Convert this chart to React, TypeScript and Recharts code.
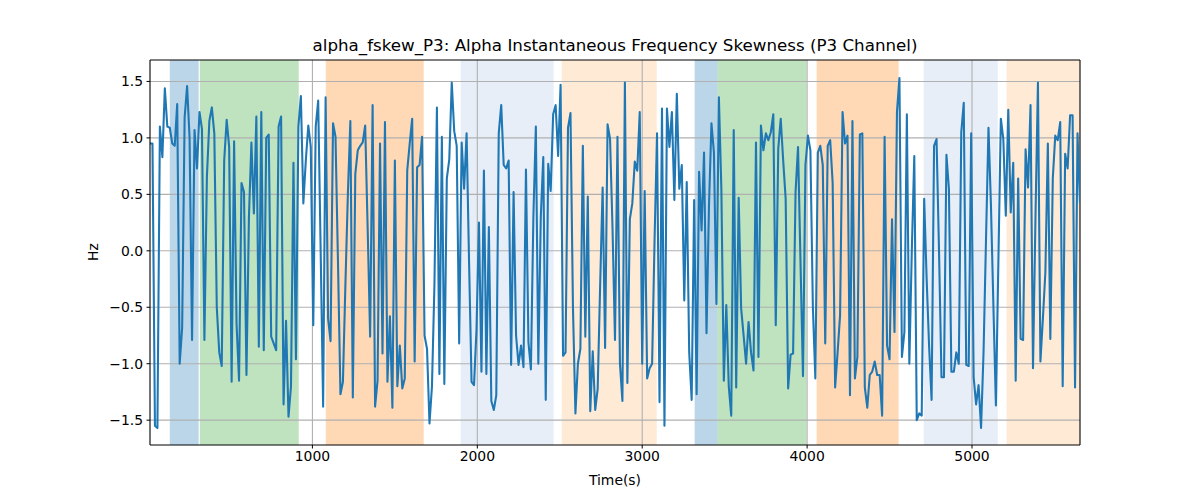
import React from "react"
import { LineChart, Line, XAxis, YAxis, ReferenceArea, ReferenceLine } from "recharts"

// alpha skewness, one sample every 15 s (first at t = 15)
const STEP = 15
const skewValues = [
  0.95, 0.95, -1.55, -1.57, 1.1, 0.83, 1.44, 1.1, 1.09, 0.95,
  0.93, 1.3, -1.0, -0.68, 1.18, 1.46, 1.0, -0.79, 1.07, 0.73,
  1.23, 1.08, -0.79, 0.65, 1.15, 1.27, 1.04, -0.5, -0.9, -1.02,
  0.8, 1.16, 0.92, -1.16, 0.97, -0.65, -1.15, 0.6, 0.52, -1.1,
  0.3, 0.96, 0.33, 1.19, -0.85, 1.23, -0.88, 1.0, 1.03, -0.76,
  -0.82, -0.88, 1.1, 1.19, -1.36, -0.62, -1.47, -1.2, 0.78, -0.96,
  1.1, 1.37, 0.42, 0.8, 1.11, 0.92, -0.66, 1.1, 1.33, 0.0,
  -1.38, 1.36, -0.6, -0.8, 1.13, 1.01, -0.1, -1.27, -1.16, -0.3,
  0.5, 1.15, -1.3, 0.68, 0.89, 0.93, 0.96, 1.11, 0.2, -0.76,
  1.29, -1.38, -1.15, 0.95, -0.91, 1.14, -1.16, -0.58, -1.39, 0.8,
  -1.2, -0.84, -1.22, -1.13, 0.71, 0.95, 1.17, -0.98, 0.74, 0.76,
  1.01, -0.75, -0.87, -1.53, -1.2, -0.3, 1.27, -1.09, 1.01, -1.18,
  0.64, 0.81, 1.49, 1.06, 0.93, -0.82, 0.96, 0.55, 1.04, -0.1,
  -1.16, -1.19, -0.7, 0.25, -1.07, 0.71, -1.09, 0.21, -1.33, -1.41,
  -1.28, 1.04, 1.29, 0.76, 0.73, 0.8, -1.01, 0.52, -0.75, -1.01,
  -0.84, -1.03, 0.72, -0.81, -1.05, 0.3, 1.1, -1.0, 0.3, 0.83,
  -1.32, 0.77, 0.53, 1.21, 1.29, 0.84, 1.47, -0.93, -0.9, 1.09,
  1.22, -0.5, -1.44, -1.0, -0.87, 0.93, -0.76, 0.48, -1.42, -0.89,
  -1.41, -1.22, -0.3, 0.56, -0.86, 1.12, 0.99, 0.2, -0.79, 1.01,
  -1.0, -1.33, 1.49, -1.17, 0.28, 0.42, 0.79, 0.71, 1.23, -1.0,
  0.53, -1.13, -1.04, -1.0, 0.1, 1.04, -1.34, 1.26, -1.55, 1.26,
  0.92, 1.23, 0.45, 1.39, 0.55, 0.76, -0.44, 0.61, -0.9, -1.32,
  0.45, -1.27, 0.7, 0.18, 0.87, -0.73, 0.4, 1.13, 0.87, -0.47,
  1.36, 0.55, -1.15, -0.48, -1.2, -1.46, 1.07, -1.21, 0.47, -0.51,
  -0.75, -1.0, -0.63, -0.9, -1.06, 0.96, -0.94, 1.11, 0.89, 1.04,
  0.98, 1.05, 1.21, -0.66, 0.9, 1.17, 0.8, 0.46, -1.22, -0.92,
  -0.91, 0.52, 0.92, -0.1, -1.11, 0.76, 1.02, 0.89, -0.5, -1.13,
  0.87, 0.93, 0.76, -0.82, 0.93, 0.98, 0.6, -1.21, -0.9, -0.57,
  1.23, 0.95, 1.02, -1.28, 1.15, -1.13, -0.94, 1.03, 1.04, -1.21,
  -1.39, -1.1, -1.07, -0.98, -1.1, -1.1, -1.46, 1.01, -0.84, -0.96,
  0.28, -0.72, 1.23, 1.53, -0.94, -0.72, 1.21, -1.0, 0.0, 0.84,
  -1.5, -1.44, -1.46, 0.46, -0.25, -0.85, -1.32, 0.93, 0.99, 0.0,
  -1.12, -1.12, 0.85, 0.55, -1.07, -1.07, -0.9, -1.0, 1.05, 1.31,
  -1.01, -1.02, 1.04, -1.12, -1.36, -1.19, -1.57, -0.9, 0.1, 1.09,
  0.4, -0.5, -1.37, -0.1, 1.17, 0.99, 0.31, 1.25, 0.34, 0.78,
  -1.15, 0.64, -0.78, -0.79, 0.9, 0.56, 1.29, -1.04, 0.3, 1.49,
  -0.98, -0.6, -0.19, 0.95, -0.78, 0.64, 1.02, 0.98, 1.14, -1.2,
  0.86, 0.73, 1.2, 1.2, -1.21, 1.04, 0.42,
]

// shaded stages (seconds)
const spanStarts = [135, 317, 1081, 1899, 2512, 3318, 3457, 4058, 4707, 5210]
const spanEnds = [310, 917, 1675, 2463, 3088, 3457, 3997, 4555, 5156, 5655]
const spanColors = [
  "#1f77b4", "#2ca02c", "#ff7f0e", "#aec7e8", "#ffbb78",
  "#1f77b4", "#2ca02c", "#ff7f0e", "#aec7e8", "#ffbb78",
]

const xTicks = [1000, 2000, 3000, 4000, 5000]
const yTicks = [-1.5, -1.0, -0.5, 0.0, 0.5, 1.0, 1.5]
const X_MIN = 15
const X_MAX = 5655
const Y_MIN = -1.72
const Y_MAX = 1.69

const FONT = "DejaVu Sans, sans-serif"

const chartData = skewValues.map((v, i) => ({ time: (i + 1) * STEP, value: v }))

const fmtY = (v: number) => {
  const s = v.toFixed(1)
  return v < 0 ? "\u2212" + s.slice(1) : s
}

export default function App() {
  return (
    <div style={{ position: "absolute", left: 0, top: 0, width: 1200, height: 500, fontFamily: FONT, background: "#fff" }}>
      <div style={{ position: "absolute", left: 150, width: 930, top: 35, textAlign: "center", fontSize: 16.7, color: "#000" }}>
        alpha_fskew_P3: Alpha Instantaneous Frequency Skewness (P3 Channel)
      </div>
      <div style={{ position: "absolute", left: 150, width: 930, top: 472, textAlign: "center", fontSize: 13.9, color: "#000" }}>
        Time(s)
      </div>
      <div
        style={{
          position: "absolute", left: 93, top: 252, fontSize: 13.9, color: "#000",
          transform: "translate(-50%, -50%) rotate(-90deg)",
        }}
      >
        Hz
      </div>
      <LineChart width={1200} height={500} data={chartData} margin={{ top: 60, right: 120, bottom: 0, left: 0 }}>
        {spanStarts.map((s, i) => (
          <ReferenceArea
            key={`span-${i}`}
            x1={s}
            x2={spanEnds[i]}
            y1={Y_MIN}
            y2={Y_MAX}
            fill={spanColors[i]}
            fillOpacity={0.3}
            stroke="none"
            ifOverflow="hidden"
          />
        ))}
        {xTicks.map((t) => (
          <ReferenceLine key={`gx-${t}`} x={t} stroke="#b0b0b0" strokeWidth={1.1} />
        ))}
        {yTicks.map((t) => (
          <ReferenceLine key={`gy-${t}`} y={t} stroke="#b0b0b0" strokeWidth={1.1} />
        ))}
        <XAxis
          dataKey="time"
          type="number"
          domain={[X_MIN, X_MAX]}
          ticks={xTicks}
          allowDataOverflow
          height={55}
          tickSize={3.5}
          tickMargin={3}
          stroke="#000"
          axisLine={{ strokeWidth: 1.1 }}
          tick={{ fill: "#000", fontSize: 13.9, fontFamily: FONT }}
        />
        <YAxis
          type="number"
          domain={[Y_MIN, Y_MAX]}
          ticks={yTicks}
          allowDataOverflow
          width={150}
          tickSize={3.5}
          tickMargin={3.5}
          stroke="#000"
          axisLine={{ strokeWidth: 1.1 }}
          tickFormatter={fmtY}
          tick={{ fill: "#000", fontSize: 13.9, fontFamily: FONT }}
        />
        <ReferenceLine y={Y_MAX} stroke="#000" strokeWidth={1.1} />
        <ReferenceLine x={X_MAX} stroke="#000" strokeWidth={1.1} />
        <Line
          dataKey="value"
          stroke="#1f77b4"
          strokeWidth={2.08}
          strokeLinejoin="round"
          dot={false}
          isAnimationActive={false}
        />
      </LineChart>
    </div>
  )
}
